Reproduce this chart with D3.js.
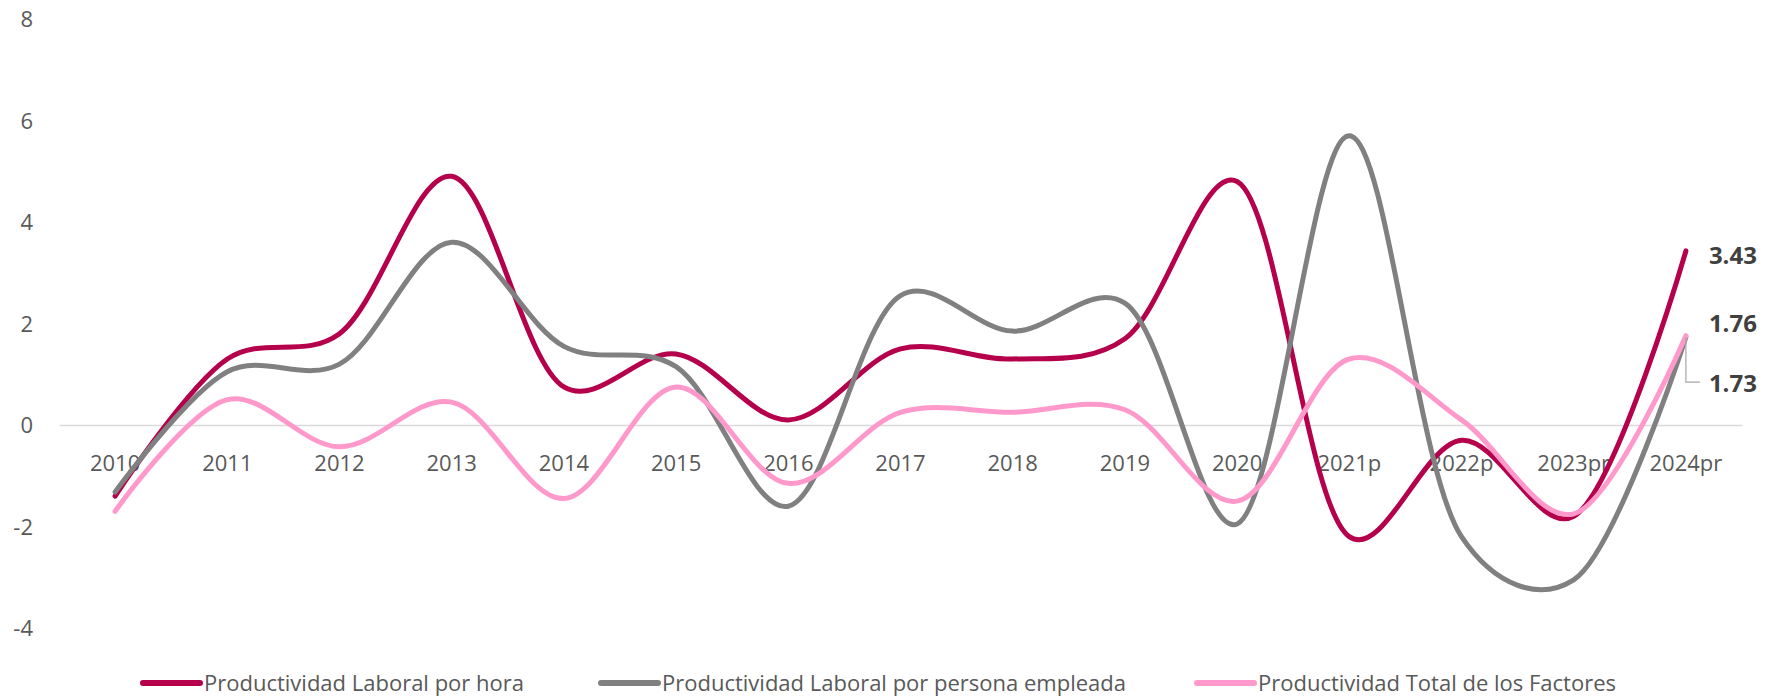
<!DOCTYPE html>
<html>
<head>
<meta charset="utf-8">
<script src="https://cdn.jsdelivr.net/npm/d3@7"></script>
<style>
  body { margin: 0; background: #fff; }
  text { font-family: "Open Sans", "Noto Sans", sans-serif; }
</style>
</head>
<body>
<script>
// categories and series
var years = ["2010", "2011", "2012", "2013", "2014", "2015", "2016", "2017",
             "2018", "2019", "2020", "2021p", "2022p", "2023pr", "2024pr"];

var porHora = [-1.4, 1.3, 1.8, 4.9, 0.75, 1.4, 0.1, 1.5, 1.3, 1.7, 4.8, -2.2, -0.3, -1.8, 3.43];
var porPersona = [-1.32, 1.05, 1.2, 3.6, 1.55, 1.15, -1.6, 2.55, 1.85, 2.4, -1.95, 5.7, -2.2, -3.05, 1.73];
var ptf = [-1.7, 0.5, -0.43, 0.45, -1.45, 0.75, -1.15, 0.25, 0.25, 0.3, -1.5, 1.3, 0.1, -1.75, 1.76];

var yTicks = [-4, -2, 0, 2, 4, 6, 8];

var seriesNames = ["Productividad Laboral por hora",
                   "Productividad Laboral por persona empleada",
                   "Productividad Total de los Factores"];
var colors = ["#B5004B", "#808080", "#FF99CC"];

var w = 1768, h = 698;

var svg = d3.select("body")
            .append("svg")
            .attr("width", w)
            .attr("height", h);

var x = d3.scaleBand()
          .domain(years)
          .range([59, 1742])
          .padding(0);

var y = d3.scaleLinear()
          .domain([-4, 8])
          .range([628, 19]);

var xc = function(d) { return x(d) + x.bandwidth() / 2; };

// y axis labels only (plain hyphen for negatives, like the original)
var yAxis = svg.append("g")
   .attr("transform", "translate(33,0)")
   .call(d3.axisLeft(y).tickValues(yTicks).tickFormat(function(d) { return String(d); })
          .tickSize(0).tickPadding(0));
yAxis.select(".domain").remove();
yAxis.selectAll("text")
   .attr("dy", "0.36em")
   .style("font-size", "22px")
   .style("font-family", "'Open Sans', sans-serif")
   .attr("fill", "#595959");

// x axis sits on zero
var xAxis = svg.append("g")
   .attr("transform", "translate(0," + y(0) + ")")
   .call(d3.axisBottom(x).tickSize(0).tickSizeOuter(0).tickPadding(30));
xAxis.select(".domain").attr("stroke", "#D9D9D9").attr("stroke-width", 1.5);
xAxis.selectAll("text")
   .style("font-size", "22px")
   .style("font-family", "'Open Sans', sans-serif")
   .attr("fill", "#595959");

// lines
var allSeries = [porHora, porPersona, ptf];
var line = d3.line()
   .x(function(d, i) { return xc(years[i]); })
   .y(function(d) { return y(d); })
   .curve(d3.curveCatmullRom.alpha(0.25));

svg.selectAll(".serie")
   .data(allSeries)
   .enter()
   .append("path")
   .attr("class", "serie")
   .attr("d", function(d) { return line(d); })
   .attr("fill", "none")
   .attr("stroke", function(d, i) { return colors[i]; })
   .attr("stroke-width", 5)
   .attr("stroke-linecap", "round")
   .attr("stroke-linejoin", "round");

// end labels
var last = years.length - 1;
var lx = xc(years[last]);

// leader line for the gray label
svg.append("path")
   .attr("d", "M" + lx + "," + y(porPersona[last]) + "V" + (y(porPersona[last]) + 45) + "H" + (lx + 14))
   .attr("fill", "none")
   .attr("stroke", "#A6A6A6")
   .attr("stroke-width", 1.2);

var endLabels = [
  { v: porHora[last], yy: 264 },
  { v: ptf[last], yy: 332 },
  { v: porPersona[last], yy: 392 }
];
svg.selectAll(".endlab")
   .data(endLabels)
   .enter()
   .append("text")
   .attr("class", "endlab")
   .attr("x", lx + 23)
   .attr("y", function(d) { return d.yy; })
   .text(function(d) { return d.v.toFixed(2); })
   .style("font-size", "24px")
   .style("font-weight", "bold")
   .attr("fill", "#404040");

// legend
var legX = [143, 601, 1197];
var legY = 683;
var leg = svg.selectAll(".leg")
   .data(seriesNames)
   .enter()
   .append("g")
   .attr("class", "leg")
   .attr("transform", function(d, i) { return "translate(" + legX[i] + "," + legY + ")"; });

leg.append("line")
   .attr("x1", 0).attr("x2", 57)
   .attr("y1", 0).attr("y2", 0)
   .attr("stroke", function(d, i) { return colors[i]; })
   .attr("stroke-width", 6)
   .attr("stroke-linecap", "round");

leg.append("text")
   .attr("x", 61)
   .attr("y", 0)
   .attr("dy", "0.36em")
   .text(function(d) { return d; })
   .style("font-size", "22px")
   .attr("fill", "#595959");
</script>
</body>
</html>
